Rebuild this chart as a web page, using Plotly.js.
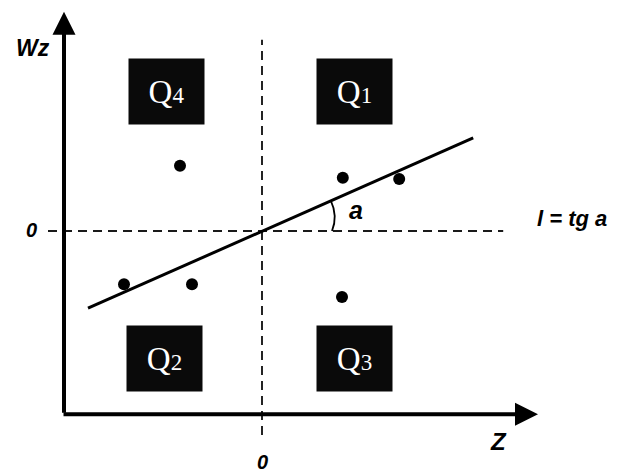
<!DOCTYPE html>
<html>
<head>
<meta charset="utf-8">
<script src="https://cdn.plot.ly/plotly-3.0.1.min.js"></script>
<style>
  html, body { margin: 0; padding: 0; background: #fff; }
  #chart { width: 619px; height: 474px; }
</style>
</head>
<body>
<div id="chart"></div>
<script>
// observations (Z, Wz)
const pointZ = [-2.05, 2.02, 3.43, -3.45, -1.75, 2.0];
const pointWz = [1.63, 1.33, 1.3, -1.33, -1.33, -1.65];

// regression line l = tg a, end points
const lineZ = [-4.35, 5.28];
const lineWz = [-1.93, 2.33];

// quadrant boxes
const quadNames = ['1', '2', '3', '4'];
const quadZ = [2.31, -2.44, 2.31, -2.39];
const quadWz = [3.49, -3.19, -3.19, 3.49];

// axis extents
const axisZ = [-4.95, 6.9];
const axisWz = [-4.58, 5.48];
const dashZ = [-5.35, 6.03];
const dashWz = [-5.1, 4.78];

const sans = 'Liberation Sans, Arial, sans-serif';
const serif = 'Liberation Serif, Times New Roman, serif';

const dashStyle = { color: '#1a1a1a', width: 1.9, dash: '9px,6px' };

const traces = [
  {
    type: 'scatter', mode: 'lines', x: dashZ, y: [0, 0],
    line: dashStyle, hoverinfo: 'skip'
  },
  {
    type: 'scatter', mode: 'lines', x: [0, 0], y: dashWz,
    line: dashStyle, hoverinfo: 'skip'
  },
  {
    type: 'scatter', mode: 'lines', x: lineZ, y: lineWz,
    line: { color: '#000', width: 3 }, hoverinfo: 'skip'
  },
  {
    type: 'scatter', mode: 'markers', x: pointZ, y: pointWz,
    marker: { color: '#000', size: 12 }
  }
];

const label = (x, y, text, size) => ({
  x: x, y: y, text: '<b><i>' + text + '</i></b>', showarrow: false,
  font: { family: sans, size: size, color: '#000' }
});

const annotations = [
  // axes with arrow heads
  {
    x: axisZ[0], y: axisWz[1], ax: axisZ[0], ay: axisWz[0],
    xref: 'x', yref: 'y', axref: 'x', ayref: 'y', text: '',
    showarrow: true, arrowhead: 2, arrowsize: 1.15, arrowwidth: 4, arrowcolor: '#000'
  },
  {
    x: axisZ[1], y: axisWz[0], ax: axisZ[0] - 0.05, ay: axisWz[0],
    xref: 'x', yref: 'y', axref: 'x', ayref: 'y', text: '',
    showarrow: true, arrowhead: 2, arrowsize: 1.15, arrowwidth: 4, arrowcolor: '#000'
  },
  label(-5.72, 4.58, 'Wz', 23),
  label(-5.76, 0.03, '0', 20),
  label(0.02, -5.77, '0', 20),
  label(5.9, -5.27, 'Z', 24),
  label(2.35, 0.52, 'a', 25),
  label(7.74, 0.32, 'l = tg a', 22)
];

quadNames.forEach((n, i) => {
  annotations.push({
    x: quadZ[i], y: quadWz[i],
    text: 'Q<span style="font-size:23px">' + n + '</span>',
    showarrow: false, bgcolor: '#0a0a0a', borderpad: 0, width: 75, height: 65,
    font: { family: serif, size: 33, color: '#fff' }
  });
});

const layout = {
  width: 619,
  height: 474,
  margin: { l: 0, r: 0, t: 0, b: 0 },
  paper_bgcolor: '#fff',
  plot_bgcolor: '#fff',
  showlegend: false,
  xaxis: { range: [-6.55, 8.925], visible: false, fixedrange: true },
  yaxis: { range: [-6.075, 5.775], visible: false, fixedrange: true },
  annotations: annotations,
  shapes: [
    {
      type: 'path', xref: 'x', yref: 'y',
      path: 'M1.72,0.76 Q1.9,0.38 1.75,0',
      line: { color: '#000', width: 1.8 }
    }
  ]
};

Plotly.newPlot('chart', traces, layout, { displayModeBar: false, staticPlot: true });
</script>
</body>
</html>
